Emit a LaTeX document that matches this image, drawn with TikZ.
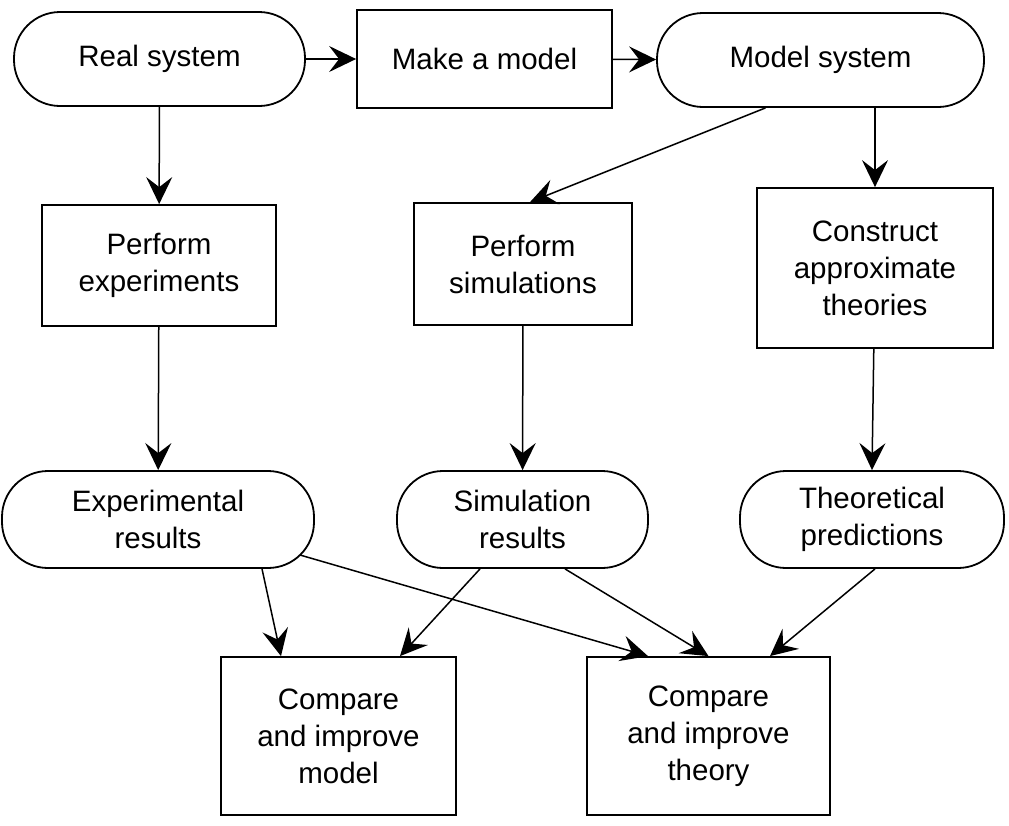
\documentclass[tikz,border=0pt]{standalone}
\usepackage{fontspec}
\setmainfont{Liberation Sans}
\usetikzlibrary{arrows.meta}

\begin{document}
\begin{tikzpicture}[x=1pt, y=-1pt,
    block/.style={draw, line width=1.8pt, align=center, inner sep=0pt,
      font=\fontsize{29.5}{37}\selectfont},
    stadium/.style={block, rounded corners=46pt},
    procbox/.style={block},
    flow/.style={-{Stealth[length=27pt, width=26pt, inset=10pt]}, line width=1.5pt}]
      \useasboundingbox (0,0) rectangle (1009,825);

      % top row
      \node[stadium, minimum width=291pt, minimum height=94pt] (real) at (159.5,59) {Real system};
      \node[procbox, minimum width=255pt, minimum height=98pt] (makemodel) at (484.5,59) {Make a model};
      \node[stadium, minimum width=327pt, minimum height=94pt] (modelsys) at (820.5,60) {Model system};

      % second row
      \node[procbox, minimum width=234pt, minimum height=121pt] (perfexp) at (159,265.5) {Perform\\experiments};
      \node[procbox, minimum width=218pt, minimum height=122pt] (perfsim) at (523,264) {Perform\\simulations};
      \node[procbox, minimum width=236pt, minimum height=160pt] (construct) at (875,268) {Construct\\approximate\\theories};

      % results
      \node[stadium, minimum width=312pt, minimum height=97pt] (expres) at (158,519.5) {Experimental\\results};
      \node[stadium, minimum width=251pt, minimum height=97pt] (simres) at (522.5,519.5) {Simulation\\results};
      \node[stadium, minimum width=264pt, minimum height=97pt] (theopred) at (872,519.5) {Theoretical\\predictions};

      % comparisons
      \node[procbox, minimum width=235pt, minimum height=158pt] (cmpmodel) at (338.5,736) {Compare\\and improve\\model};
      \node[procbox, minimum width=243pt, minimum height=158pt] (cmptheory) at (708.5,736) {Compare\\and improve\\theory};

      \draw[flow] (real) -- (makemodel);
      \draw[flow] (makemodel) -- (modelsys);
      \draw[flow] (real) -- (perfexp);
      \draw[flow] ([xshift=-55pt]modelsys.south) -- ([xshift=7pt]perfsim.north);
      \draw[flow] ([xshift=54.5pt]modelsys.south) -- (construct);
      \draw[flow] (perfexp) -- (expres);
      \draw[flow] (perfsim) -- (simres);
      \draw[flow] (construct) -- (theopred.north);
      \draw[flow] ([xshift=104pt]expres.south) -- ([xshift=-57.5pt]cmpmodel.north);
      \draw[flow] ([shift={(142,35.5)}]expres.center) -- ([xshift=-60.5pt]cmptheory.north);
      \draw[flow] ([xshift=-42.5pt]simres.south) -- ([xshift=61.5pt]cmpmodel.north);
      \draw[flow] ([xshift=42.5pt]simres.south) -- (cmptheory.north);
      \draw[flow] ([xshift=3pt]theopred.south) -- ([xshift=61.5pt]cmptheory.north);
    \end{tikzpicture}
\end{document}
